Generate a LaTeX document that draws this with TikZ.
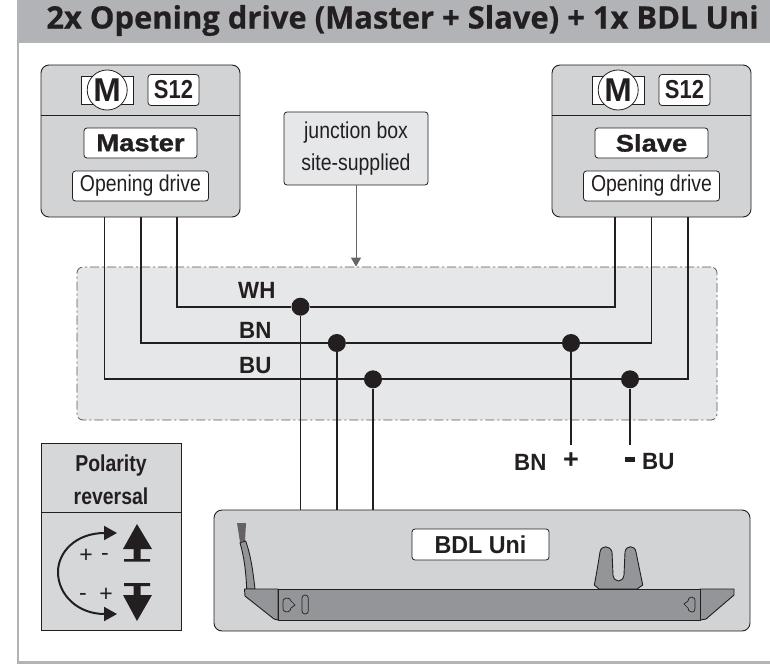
\documentclass[tikz,border=0pt]{standalone}
\usepackage{fontspec}
\setmainfont{Liberation Sans}
\newfontfamily\narrowfont[FakeStretch=0.845]{Liberation Sans}
\newfontfamily\labfont[FakeStretch=0.95]{Liberation Sans}
\newfontfamily\widefont[FakeStretch=1.14, FakeBold=1.2]{Liberation Sans}
\newfontfamily\titlefont[FakeBold=0.6]{Open Sans}
\usetikzlibrary{arrows.meta}

\definecolor{headgray}{HTML}{B1B3B6}
\definecolor{boxgray}{HTML}{D1D3D4}
\definecolor{palegray}{HTML}{E6E7E8}
\definecolor{railgray}{HTML}{939598}
\definecolor{inkblack}{HTML}{231F20}

\tikzset{
	unitbox/.style={draw=inkblack, line width=0.9pt, fill=boxgray, rounded corners=8pt, inner sep=0pt},
	tagbox/.style={draw=inkblack, line width=0.8pt, fill=white, rounded corners=3pt, inner sep=0pt, text=inkblack},
	wire/.style={draw=inkblack, line width=1.7pt},
	dot/.style={circle, fill=inkblack, inner sep=0pt, minimum size=18pt},
	lab/.style={text=inkblack, inner sep=0pt, font=\fontsize{23.5}{26}\selectfont\labfont\bfseries},
	slimtext/.style={font=\fontsize{23}{32}\selectfont\narrowfont},
	rail/.style={draw=inkblack, line width=0.9pt, fill=railgray, line join=round}
}

\begin{document}
\begin{tikzpicture}[x=1pt, y=-1pt]
\useasboundingbox (0,0) rectangle (770,666);

% frame and heading
\fill[headgray] (17,0) rectangle (770,43);
\fill[headgray] (17,43) rectangle (19,664);
\fill[headgray] (17,661) rectangle (770,664);
\node[text=inkblack, inner sep=0pt, font=\fontsize{30.9}{34}\selectfont\titlefont\bfseries] (title) at (402.5,20.5)
	{2x Opening drive (Master + Slave) + 1x BDL Uni};

% junction area
\node[draw=black!65, dash pattern=on 9pt off 3pt on 2pt off 3pt, line width=0.8pt, fill=palegray, rounded corners=6pt,
	minimum width=640pt, minimum height=153pt, inner sep=0pt] (area) at (397,343.5) {};

% drives
\foreach \name/\cx/\tag in {master/140.5/Master, slave/651.5/Slave} {
	\node[unitbox, minimum width=199pt, minimum height=152pt] (\name) at (\cx,141) {};
	\draw[draw=inkblack, line width=0.9pt] (\name.west |- 0,115) -- (\name.east |- 0,115);
	\node[draw=inkblack, line width=0.6pt, fill=white, minimum width=52pt, minimum height=28pt, inner sep=0pt] (\name rect) at (\cx-32.8,90) {};
	\node[circle, draw=inkblack, line width=0.8pt, fill=white, minimum size=40pt, inner sep=0pt, text=inkblack,
		font=\fontsize{33}{33}\selectfont\bfseries] (\name motor) at (\cx-33.3,90) {M};
	\node[tagbox, minimum width=51pt, minimum height=31pt, font=\fontsize{26}{26}\selectfont\narrowfont\bfseries] (\name s) at (\cx+33,90) {S12};
	\node[tagbox, minimum width=113pt, minimum height=30pt, font=\fontsize{24}{24}\selectfont\widefont\bfseries] (\name tag) at (\cx,143) {\tag};
	\node[tagbox, minimum width=136pt, minimum height=30pt, slimtext] (\name drive) at (\cx,186) {Opening drive};
}

\node[draw=inkblack, line width=0.8pt, fill=palegray, rounded corners=3pt, inner sep=0pt, text=inkblack,
	minimum width=144pt, minimum height=73pt, align=center, slimtext] (jbox) at (356,148.5) {junction box\\site-supplied};
\draw[draw=black!60, line width=1pt, -{Triangle[width=10pt,length=9pt]}] (jbox.south) -- (jbox.south |- area.north);

% BDL unit
\node[unitbox, minimum width=536pt, minimum height=121pt] (bdl) at (482,570.5) {};
\node[tagbox, minimum width=137pt, minimum height=31pt, font=\fontsize{24.5}{26}\selectfont\labfont\bfseries] (bdltag) at (480.5,544.5) {BDL Uni};

% wires
\foreach \name/\lx/\rx/\wy/\jx in {WH/177/615/306.7/300.5, BN/140.7/651.5/343/336.8, BU/104.5/687.7/379.3/373} {
	\coordinate (m\name) at (\lx,217);
	\coordinate (s\name) at (\rx,217);
	\node[dot] (j\name) at (\jx,\wy) {};
	\draw[wire] (m\name) |- (j\name);
	\draw[wire] (j\name) -| (s\name);
	\draw[wire] (j\name) -- (j\name |- bdl.north);
}
\node[dot] (jplus) at (571,343) {};
\node[dot] (jminus) at (630,379.3) {};
\coordinate (endplus) at (571,445);
\coordinate (endminus) at (630,445);
\draw[wire] (jplus) -- (endplus);
\draw[wire] (jminus) -- (endminus);

\node[lab, anchor=west] (labWH) at (238,290) {WH};
\node[lab, anchor=west] (labBN) at (239,330) {BN};
\node[lab, anchor=west] (labBU) at (239,366) {BU};
\node[lab, anchor=west] (endBN) at (514,462) {BN};
\node[lab, anchor=west] (endBU) at (642,462) {BU};
\node[lab, font=\fontsize{27}{27}\selectfont\bfseries] (plus) at (571,461) {+};
\fill[inkblack] (625,456.5) rectangle (635,461.5);

% polarity box
\node[draw=inkblack, line width=0.9pt, fill=boxgray!80!palegray, minimum width=140.7pt, minimum height=187.7pt, inner sep=0pt] (pol) at (111.35,536.85) {};
\draw[draw=inkblack, line width=0.9pt] (pol.west |- 0,512) -- (pol.east |- 0,512);
\node[text=inkblack, inner sep=0pt, align=center, font=\fontsize{23}{33}\selectfont\narrowfont\bfseries] (poltext) at (111,479.5) {Polarity\\reversal};

\coordinate (arrowtop) at (117,533);
\coordinate (arrowbot) at (117,614);
\draw[draw=inkblack, line width=2pt, {Triangle[width=14pt,length=13pt]}-{Triangle[width=14pt,length=13pt]}]
	(arrowtop) .. controls (76,533) and (58,552) .. (58,572) .. controls (58,595) and (78,614) .. (arrowbot);

\fill[inkblack] (137,524) -- (152,549) -- (140.5,549) -- (140.5,559) -- (150,559) -- (150,561.5) -- (124,561.5) -- (124,559) -- (133.5,559) -- (133.5,549) -- (123,549) -- cycle;
\fill[inkblack] (137,621) -- (152,595) -- (140.5,595) -- (140.5,586) -- (150,586) -- (150,583) -- (124,583) -- (124,586) -- (133.5,586) -- (133.5,595) -- (123,595) -- cycle;

\foreach \tx/\ty/\sign [count=\n] in {86/556/+, 105/557/-, 83/597/-, 106/595/+}
	\node[text=inkblack, inner sep=0pt, font=\fontsize{23}{23}\selectfont] (sign\n) at (\tx,\ty) {\sign};

% rail with cable and bracket
\fill[inkblack!70] (237,523) -- (246,523) -- (245,541) -- (240,542) -- cycle;
\draw[rail] (240,542.8) -- (245.7,541) .. controls (251,556) and (253,572) .. (255,589) -- (246.7,589) .. controls (246,572) and (244,556) .. (240,542.8) -- cycle;
\draw[rail] (594.3,585) .. controls (595,582) and (598,565) .. (600,552) .. controls (601,545) and (610,545) .. (612,552)
	-- (613,575) .. controls (614,583) and (623,583) .. (624,575) -- (625,552) .. controls (626,545) and (635,545) .. (636,552)
	-- (642.7,585) -- (637,589) -- (599,589) -- cycle;
\draw[rail] (244.5,589) -- (278,589) -- (278,620) -- (274,619) -- (245,596) -- cycle;
\draw[rail] (700,589) -- (734,589) -- (734,595) -- (706,619) -- (700,620) -- cycle;
\draw[rail] (278,589) rectangle (700,620);
\draw[draw=inkblack, line width=0.7pt] (286,598) .. controls (283,598) and (283,600) .. (283,605) .. controls (283,610) and (283,612) .. (286,612) .. controls (290,612) and (291,609) .. (291,608) -- (295,605) -- (291,601) .. controls (291,599) and (289,598) .. (286,598) -- cycle;
\draw[draw=inkblack, line width=0.7pt, rounded corners=3pt] (302,595) rectangle (308.3,614);
\draw[draw=inkblack, line width=0.7pt] (692,597) .. controls (695,597) and (695,599) .. (695,604) .. controls (695,610) and (695,612) .. (692,612) .. controls (689,612) and (688,610) .. (688,608) -- (684,604) -- (688,601) .. controls (688,599) and (689,597) .. (692,597) -- cycle;
\end{tikzpicture}
\end{document}
